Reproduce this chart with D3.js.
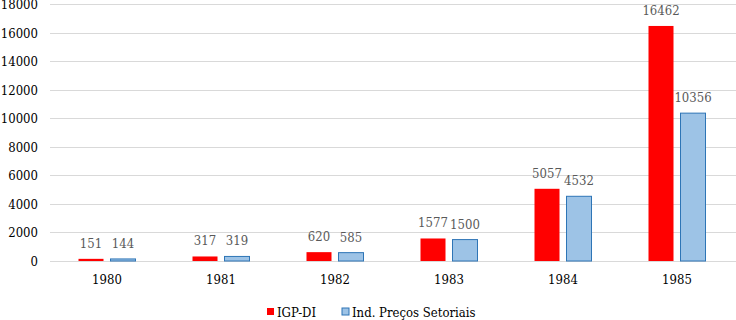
<!DOCTYPE html>
<html lang="en">
<head>
  <meta charset="utf-8"/>
  <title>IGP-DI vs Ind. Preços Setoriais</title>
  <script src="https://cdnjs.cloudflare.com/ajax/libs/d3/7.8.5/d3.min.js"></script>
  <style>
    body { margin: 0; background: #fff; }
    svg { display: block; }
    text { font-stretch: condensed; }
  </style>
</head>
<body>
<svg width="736" height="320"></svg>
<script>
  // data
  var years = ["1980", "1981", "1982", "1983", "1984", "1985"];
  var igpDi = [151, 317, 620, 1577, 5057, 16462];
  var precosSetoriais = [144, 319, 585, 1500, 4532, 10356];
  var yTicks = [0, 2000, 4000, 6000, 8000, 10000, 12000, 14000, 16000, 18000];
  var seriesNames = ["IGP-DI", "Ind. Preços Setoriais"];
  var seriesFill = ["#ff0000", "#9dc3e6"];
  var seriesStroke = ["none", "#2e75b6"];

  var font = "'DejaVu Serif Condensed', 'DejaVu Serif', serif";
  var fontSize = "13px";
  var svg = d3.select("svg");

  var x = d3.scaleBand().domain(years).range([50, 734]);
  var y = d3.scaleLinear().domain([0, 18000]).range([261, 4]);

  // grid
  svg.append("g").selectAll("line")
    .data(yTicks)
    .enter().append("line")
    .attr("x1", 50).attr("x2", 736)
    .attr("y1", function(d) { return Math.round(y(d)) + 0.5; })
    .attr("y2", function(d) { return Math.round(y(d)) + 0.5; })
    .attr("stroke", "#d9d9d9")
    .attr("stroke-width", 1);

  // y labels
  svg.append("g").selectAll("text")
    .data(yTicks)
    .enter().append("text")
    .attr("x", 38)
    .attr("y", function(d) { return y(d) + 5; })
    .attr("text-anchor", "end")
    .style("font-family", font)
    .style("font-size", fontSize)
    .attr("fill", "#000")
    .text(function(d) { return d; });

  // bars
  var barW = 25, gap = 7;
  var series = [igpDi, precosSetoriais];
  series.forEach(function(vals, s) {
    var offset = s === 0 ? -gap / 2 - barW : gap / 2;
    var g = svg.append("g");
    g.selectAll("rect")
      .data(vals)
      .enter().append("rect")
      .attr("x", function(d, i) { return x(years[i]) + x.bandwidth() / 2 + offset; })
      .attr("y", function(d) { return y(d); })
      .attr("width", barW)
      .attr("height", function(d) { return y(0) - y(d); })
      .attr("fill", seriesFill[s])
      .attr("stroke", seriesStroke[s])
      .attr("stroke-width", 1);

    g.selectAll("text")
      .data(vals)
      .enter().append("text")
      .attr("x", function(d, i) { return x(years[i]) + x.bandwidth() / 2 + offset + barW / 2; })
      .attr("y", function(d) { return y(d) - 11; })
      .attr("text-anchor", "middle")
      .style("font-family", font)
      .style("font-size", fontSize)
      .attr("fill", "#595959")
      .text(function(d) { return d; });
  });

  // category labels
  svg.append("g").selectAll("text")
    .data(years)
    .enter().append("text")
    .attr("x", function(d) { return x(d) + x.bandwidth() / 2; })
    .attr("y", 284)
    .attr("text-anchor", "middle")
    .style("font-family", font)
    .style("font-size", fontSize)
    .attr("fill", "#000")
    .text(function(d) { return d; });

  // legend
  var legendX = [267, 342];
  var legend = svg.append("g");
  seriesNames.forEach(function(name, i) {
    legend.append("rect")
      .attr("x", legendX[i]).attr("y", 308)
      .attr("width", 7).attr("height", 7)
      .attr("fill", seriesFill[i])
      .attr("stroke", seriesStroke[i]);
    legend.append("text")
      .attr("x", legendX[i] + 10).attr("y", 317)
      .style("font-family", font)
      .style("font-size", fontSize)
      .attr("fill", "#000")
      .text(name);
  });
</script>
</body>
</html>
